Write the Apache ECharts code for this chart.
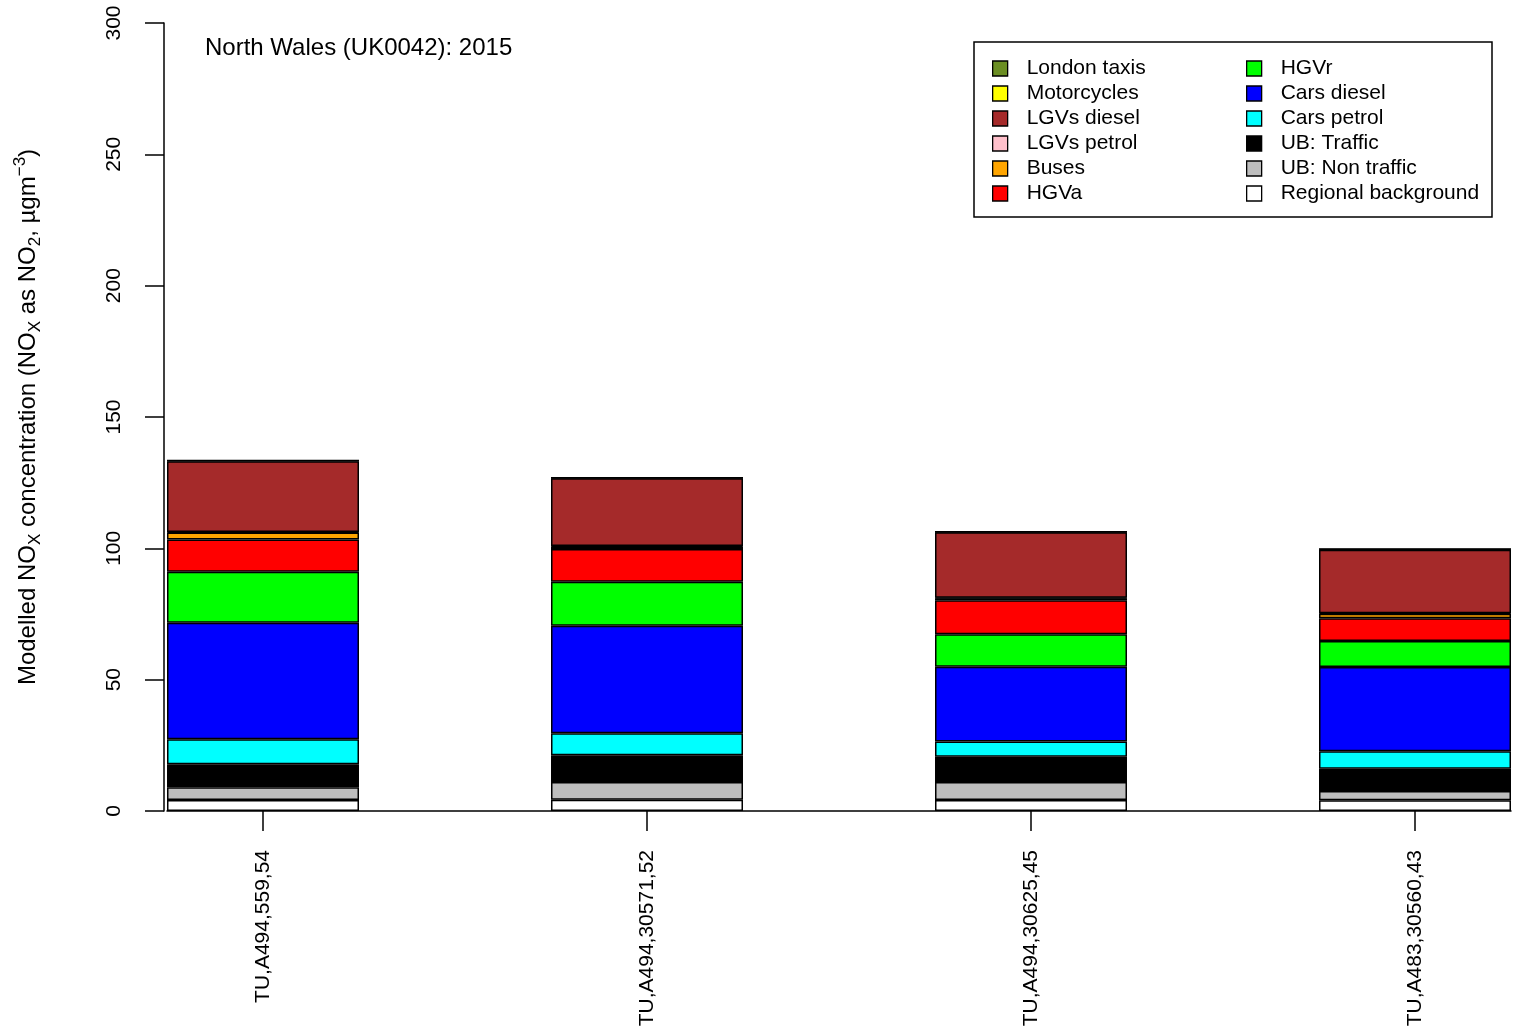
<!DOCTYPE html>
<html>
<head>
<meta charset="utf-8">
<script src="https://cdn.jsdelivr.net/npm/echarts@6/dist/echarts.min.js"></script>
<style>
html,body{margin:0;padding:0;background:#fff;}
#chart{width:1513px;height:1033px;}
</style>
</head>
<body>
<div id="chart"></div>
<script>
// ---- data ----
const categories = ['TU,A494,559,54', 'TU,A494,30571,52', 'TU,A494,30625,45', 'TU,A483,30560,43'];
const yTicks = [0, 50, 100, 150, 200, 250, 300];

const regionalBackground = [4.2, 4.3, 4.2, 4.1];
const ubNonTraffic       = [4.8, 6.7, 6.8, 3.5];
const ubTraffic          = [8.8, 10.2, 9.7, 8.5];
const carsPetrol         = [9.5, 8.4, 5.8, 6.6];
const carsDiesel         = [44.4, 40.9, 28.4, 32.1];
const hgvr               = [19.4, 16.8, 12.4, 9.9];
const hgva               = [12.3, 12.4, 12.9, 8.7];
const buses              = [2.6, 1.0, 0.8, 1.7];
const lgvsPetrol         = [0.2, 0.2, 0.2, 0.2];
const lgvsDiesel         = [27.0, 25.8, 24.9, 24.2];
const motorcycles        = [0.2, 0.2, 0.2, 0.2];
const londonTaxis        = [0, 0, 0, 0];

// stacking order bottom -> top
const seriesDefs = [
  {name: 'Regional background', data: regionalBackground, color: '#FFFFFF'},
  {name: 'UB: Non traffic',     data: ubNonTraffic,       color: '#BEBEBE'},
  {name: 'UB: Traffic',         data: ubTraffic,          color: '#000000'},
  {name: 'Cars petrol',         data: carsPetrol,         color: '#00FFFF'},
  {name: 'Cars diesel',         data: carsDiesel,         color: '#0000FF'},
  {name: 'HGVr',                data: hgvr,               color: '#00FF00'},
  {name: 'HGVa',                data: hgva,               color: '#FF0000'},
  {name: 'Buses',               data: buses,              color: '#FFA500'},
  {name: 'LGVs petrol',         data: lgvsPetrol,         color: '#FFC0CB'},
  {name: 'LGVs diesel',         data: lgvsDiesel,         color: '#A52A2A'},
  {name: 'Motorcycles',         data: motorcycles,        color: '#FFFF00'},
  {name: 'London taxis',        data: londonTaxis,        color: '#6B8E23'}
];
const legendLeft  = ['London taxis', 'Motorcycles', 'LGVs diesel', 'LGVs petrol', 'Buses', 'HGVa'];
const legendRight = ['HGVr', 'Cars diesel', 'Cars petrol', 'UB: Traffic', 'UB: Non traffic', 'Regional background'];

// bars are separated by an empty band of equal width (R barplot space = 1)
const axisCats = [];
categories.forEach((c, i) => { axisCats.push(c); if (i < categories.length - 1) axisCats.push(''); });
function spread(arr) {
  const out = [];
  arr.forEach((v, i) => { out.push(v); if (i < arr.length - 1) out.push('-'); });
  return out;
}

const FONT = 'Liberation Sans, Arial, Helvetica, sans-serif';
const chart = echarts.init(document.getElementById('chart'), null, {renderer: 'canvas'});

const legendCommon = {
  orient: 'vertical',
  top: 58,
  padding: 0,
  itemWidth: 15,
  itemHeight: 15,
  itemGap: 4,
  selectedMode: false,
  icon: 'rect',
  itemStyle: {borderColor: '#000', borderWidth: 1.3},
  textStyle: {fontSize: 21, color: '#000', fontFamily: FONT, padding: [0, 0, 0, 14]}
};

const option = {
  animation: false,
  backgroundColor: '#fff',
  textStyle: {fontFamily: FONT},
  title: {
    text: 'North Wales (UK0042): 2015',
    left: 205, top: 36, padding: 0,
    textStyle: {fontSize: 24, fontWeight: 'normal', color: '#000', fontFamily: FONT}
  },
  legend: [
    Object.assign({}, legendCommon, {left: 992, data: legendLeft}),
    Object.assign({}, legendCommon, {left: 1246, data: legendRight})
  ],
  graphic: [{
    type: 'rect',
    shape: {x: 974, y: 42, width: 518, height: 175},
    style: {fill: 'none', stroke: '#000', lineWidth: 1.5},
    silent: true
  }],
  grid: {left: 167, right: 2, top: 23, bottom: 222, containLabel: false},
  xAxis: {
    type: 'category',
    data: axisCats,
    boundaryGap: true,
    axisLine: {show: true, onZero: false, lineStyle: {color: '#000', width: 1.5}},
    axisTick: {show: true, alignWithLabel: true, length: 20, interval: (i) => i % 2 === 0,
               lineStyle: {color: '#000', width: 1.5}},
    axisLabel: {rotate: 90, interval: (i) => i % 2 === 0, margin: 39, fontSize: 21,
                color: '#000', fontFamily: FONT},
    splitLine: {show: false}
  },
  yAxis: {
    type: 'value',
    min: yTicks[0], max: yTicks[yTicks.length - 1], interval: yTicks[1] - yTicks[0],
    offset: 3,
    axisLine: {show: true, lineStyle: {color: '#000', width: 1.5}},
    axisTick: {show: true, length: 19, lineStyle: {color: '#000', width: 1.5}},
    axisLabel: {rotate: 90, margin: 39, fontSize: 21, color: '#000', fontFamily: FONT},
    splitLine: {show: false},
    name: 'Modelled NO{sub|X} concentration (NO{sub|X} as NO{sub|2}, µgm{sup|−3})',
    nameLocation: 'middle',
    nameGap: 120,
    nameTextStyle: {
      fontSize: 24, color: '#000', fontFamily: FONT, lineHeight: 32,
      rich: {
        sub: {fontSize: 17, color: '#000', fontFamily: FONT, verticalAlign: 'bottom', lineHeight: 32},
        sup: {fontSize: 17, color: '#000', fontFamily: FONT, verticalAlign: 'top', lineHeight: 32}
      }
    }
  },
  series: seriesDefs.map(s => ({
    name: s.name,
    type: 'bar',
    stack: 'total',
    data: spread(s.data),
    barWidth: '100%',
    barCategoryGap: '0%',
    itemStyle: {color: s.color, borderColor: '#000', borderWidth: 1.5},
    emphasis: {disabled: true}
  }))
};
chart.setOption(option);
</script>
</body>
</html>
